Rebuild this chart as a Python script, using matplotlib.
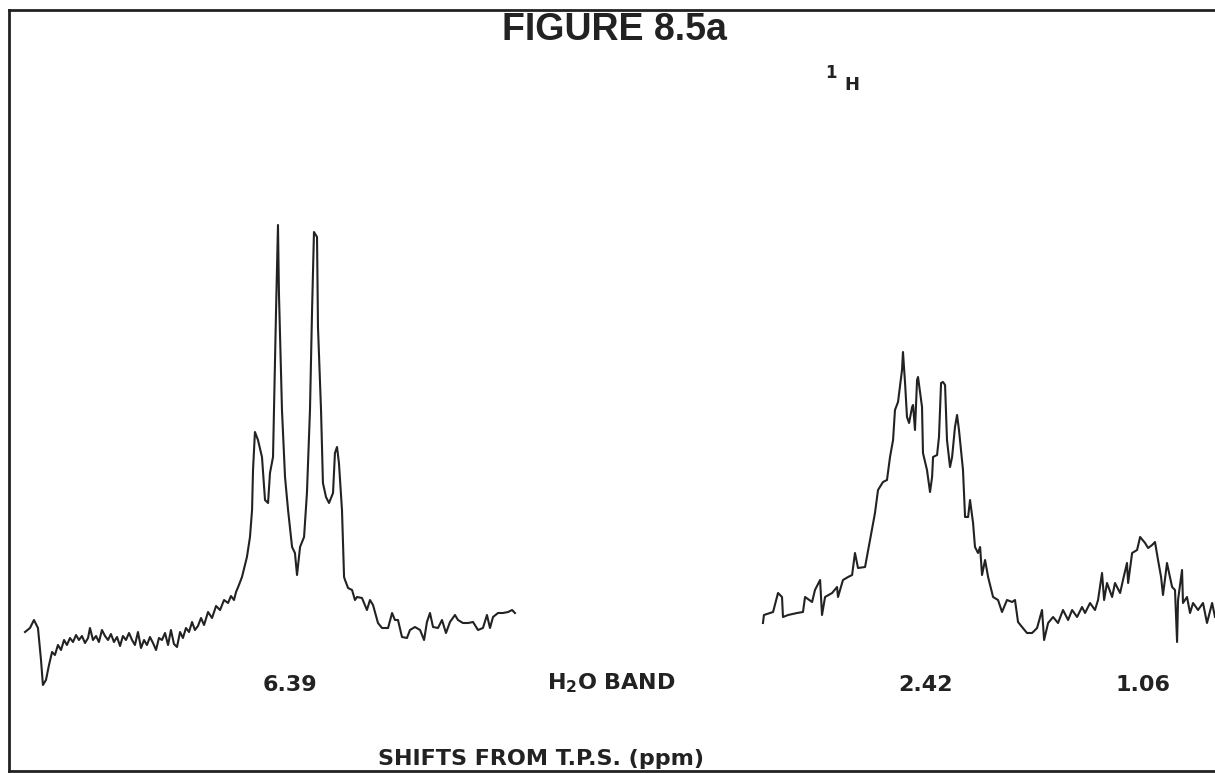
import matplotlib.pyplot as plt

# 1H spectrum, x = shift from T.P.S. (ppm), y = pen height (arb.)
left_ppm = [8.046, 8.015, 7.990, 7.965, 7.946, 7.934, 7.915, 7.896, 7.877, 7.859,
            7.840, 7.821, 7.802, 7.784, 7.765, 7.746, 7.727, 7.709, 7.690, 7.671,
            7.652, 7.640, 7.621, 7.602, 7.584, 7.565, 7.546, 7.527, 7.509, 7.490,
            7.471, 7.452, 7.434, 7.415, 7.396, 7.377, 7.359, 7.340, 7.321, 7.302,
            7.284, 7.265, 7.246, 7.227, 7.209, 7.190, 7.171, 7.152, 7.134, 7.115,
            7.096, 7.077, 7.059, 7.040, 7.021, 7.002, 6.984, 6.965, 6.946, 6.927,
            6.902, 6.877, 6.852, 6.827, 6.802, 6.777, 6.759, 6.740, 6.727, 6.709,
            6.690, 6.671, 6.659, 6.640, 6.627, 6.621, 6.609, 6.590, 6.565, 6.546,
            6.527, 6.515, 6.496, 6.490, 6.477, 6.465, 6.459, 6.440, 6.421, 6.402,
            6.377, 6.359, 6.346, 6.327, 6.302, 6.284, 6.265, 6.252, 6.240, 6.221,
            6.215, 6.196, 6.184, 6.165, 6.146, 6.121, 6.109, 6.096, 6.084, 6.065,
            6.052, 6.046, 6.027, 6.002, 5.984, 5.971, 5.940, 5.909, 5.890, 5.871,
            5.840, 5.815, 5.777, 5.752, 5.734, 5.715, 5.690, 5.659, 5.640, 5.609,
            5.577, 5.552, 5.534, 5.515, 5.496, 5.465, 5.440, 5.415, 5.390, 5.359,
            5.340, 5.309, 5.277, 5.246, 5.215, 5.184, 5.159, 5.140, 5.121, 5.090,
            5.059, 5.027, 5.002, 4.984]
left_int = [68, 72, 80, 72, 40, 15, 20, 35, 48, 45,
            55, 50, 60, 55, 62, 58, 65, 60, 64, 57,
            62, 72, 60, 64, 58, 70, 64, 60, 66, 58,
            63, 54, 64, 60, 67, 60, 55, 68, 52, 60,
            55, 63, 57, 50, 62, 60, 67, 55, 70, 56,
            53, 68, 62, 72, 68, 78, 70, 74, 82, 75,
            88, 82, 94, 90, 100, 97, 104, 100, 108, 115,
            123, 135, 143, 163, 190, 230, 268, 260, 243, 200,
            197, 227, 243, 290, 390, 475, 407, 290, 223, 190,
            153, 147, 125, 153, 163, 207, 290, 390, 468, 463,
            373, 290, 217, 203, 197, 207, 247, 253, 237, 190,
            123, 120, 112, 110, 100, 103, 102, 90, 100, 95,
            77, 72, 72, 87, 80, 80, 63, 62, 70, 73,
            70, 60, 78, 87, 73, 72, 80, 67, 78, 85,
            80, 77, 77, 78, 70, 72, 85, 72, 83, 87,
            87, 88, 90, 87]

right_ppm = [3.434, 3.428, 3.371, 3.340, 3.315, 3.309, 3.277, 3.221, 3.184, 3.171,
             3.127, 3.109, 3.077, 3.065, 3.046, 3.002, 2.971, 2.965, 2.934, 2.902,
             2.877, 2.859, 2.840, 2.796, 2.765, 2.734, 2.715, 2.684, 2.659, 2.640,
             2.621, 2.609, 2.590, 2.565, 2.559, 2.546, 2.534, 2.521, 2.502, 2.496,
             2.484, 2.471, 2.465, 2.440, 2.434, 2.409, 2.390, 2.377, 2.371, 2.346,
             2.334, 2.321, 2.309, 2.296, 2.284, 2.265, 2.252, 2.234, 2.221, 2.209,
             2.184, 2.171, 2.152, 2.140, 2.121, 2.109, 2.090, 2.077, 2.065, 2.046,
             2.027, 1.996, 1.965, 1.940, 1.909, 1.877, 1.859, 1.840, 1.815, 1.784,
             1.752, 1.721, 1.690, 1.677, 1.652, 1.621, 1.590, 1.559, 1.527, 1.502,
             1.471, 1.440, 1.421, 1.390, 1.359, 1.340, 1.315, 1.302, 1.284, 1.252,
             1.234, 1.202, 1.184, 1.159, 1.152, 1.127, 1.096, 1.077, 1.046, 1.027,
             1.002, 0.984, 0.965, 0.946, 0.934, 0.909, 0.896, 0.877, 0.859, 0.846,
             0.840, 0.815, 0.809, 0.784, 0.765, 0.746, 0.715, 0.684, 0.659, 0.627,
             0.609]
right_int = [77, 85, 88, 107, 103, 83, 85, 87, 88, 103,
             98, 110, 120, 85, 103, 107, 113, 103, 120, 123,
             125, 147, 132, 133, 160, 187, 210, 218, 220, 243,
             260, 290, 298, 330, 348, 317, 283, 277, 293, 295,
             270, 320, 323, 293, 247, 230, 208, 223, 243, 245,
             263, 317, 318, 315, 260, 233, 243, 273, 285, 270,
             230, 183, 183, 200, 177, 153, 147, 153, 125, 140,
             123, 103, 100, 88, 100, 98, 100, 78, 73, 67,
             67, 72, 90, 60, 77, 83, 77, 90, 80, 90,
             83, 93, 87, 97, 90, 100, 127, 100, 117, 103,
             117, 107, 120, 137, 117, 147, 150, 163, 157, 152,
             155, 158, 140, 123, 105, 137, 127, 113, 110, 58,
             100, 130, 97, 103, 87, 97, 90, 97, 77, 97,
             83]

peak_labels = ['6.39', '2.42', '1.06']
peak_pos = [6.39, 2.42, 1.06]
water_pos = 4.38

ink = '#222222'
plt.rcParams['mathtext.fontset'] = 'dejavusans'

fig = plt.figure(figsize=(12.15, 7.73), dpi=100)
ax = fig.add_axes([9 / 1215, 2 / 773, 1206 / 1215, 761 / 773])
ax.plot(left_ppm, left_int, color=ink, lw=1.5)
ax.plot(right_ppm, right_int, color=ink, lw=1.5)

ax.set_xlim(8.146, 0.609)
ax.set_ylim(-71, 690)
ax.set_xticks([])
ax.set_yticks([])
ax.spines['right'].set_visible(False)
for s in ['left', 'top', 'bottom']:
    ax.spines[s].set_color(ink)
    ax.spines[s].set_linewidth(2.0)

# peak positions written under the spectrum
lab = dict(family='DejaVu Sans', fontweight='bold', fontsize=16, color=ink,
           ha='center', va='center')
for p, t in zip(peak_pos, peak_labels):
    ax.text(p, 15, t, **lab)

ax.text(water_pos, 17, r'$\mathbf{H_2O\ BAND}$', fontsize=16, color=ink,
        ha='center', va='center')

fig.text(0.506, 0.961, 'FIGURE 8.5a', family='Liberation Sans', fontweight='bold',
         fontsize=27, color=ink, ha='center', va='center')
fig.text(0.684, 0.906, '1', family='DejaVu Sans', fontweight='bold', fontsize=12,
         color=ink, ha='center', va='center')
fig.text(0.701, 0.890, 'H', family='DejaVu Sans', fontweight='bold', fontsize=13,
         color=ink, ha='center', va='center')
fig.text(0.445, 0.018, 'SHIFTS FROM T.P.S. (ppm)', family='DejaVu Sans',
         fontweight='bold', fontsize=16, color=ink, ha='center', va='center')

fig.savefig('out.png', dpi=100, facecolor='white')
